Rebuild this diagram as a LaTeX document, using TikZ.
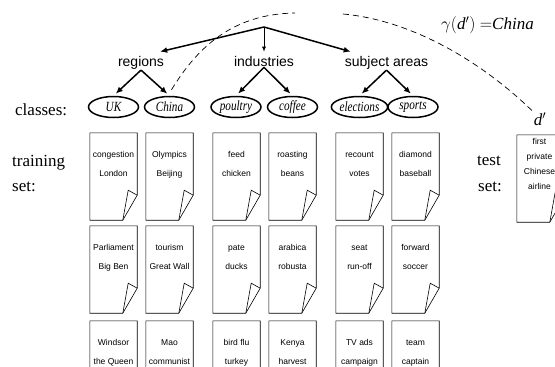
\documentclass[tikz,border=0pt]{standalone}
\usepackage{fontspec}
\usepackage{graphicx}
\setmainfont{Liberation Serif}
\newfontfamily\hv{Liberation Sans}
\usetikzlibrary{arrows.meta,calc,shapes.geometric}
\newcommand\sx[1]{\scalebox{0.8}[1]{#1}}
\newcommand\docpage[5]{%
  \node[docbox] (#1) at ({#2+23.5},{#3+43.5}) {};
  \draw[docline] (#1.north east) -- ($(#1.south east)+(0,-25)$) -- ($(#1.south west)+(33,0)$)
     -- (#1.south west) -- (#1.north west) -- cycle;
  \draw[docline] ($(#1.south west)+(33,0)$) -- ($(#1.south east)+(-9,-30)$) -- ($(#1.south east)+(0,-25)$);
  \node[doctext] (#1a) at ($(#1.north)+(0,25)$) {#4};
  \node[doctext] (#1b) at ($(#1.north)+(0,44)$) {#5};
}
\begin{document}
\begin{tikzpicture}[x=1pt,y=-1pt,
  docbox/.style={rectangle,minimum width=47pt,minimum height=87pt,inner sep=0pt},
  docline/.style={line width=0.6pt,line join=miter},
  doctext/.style={anchor=base,inner sep=0pt,font=\hv\fontsize{8.5}{9}\selectfont},
  cat/.style={anchor=base,inner sep=1pt,font=\hv\fontsize{14}{16}\selectfont},
  lab/.style={anchor=base west,inner sep=0pt,font=\fontsize{17}{19}\selectfont},
  ellip/.style={ellipse,draw,line width=1.5pt,minimum width=50pt,minimum height=21pt,
     inner xsep=0pt,inner ysep=-3pt,font=\fontsize{14}{15}\selectfont\itshape},
  thickarrow/.style={line width=1.5pt,-{Latex[length=7pt,width=6pt]}},
  thinarrow/.style={line width=0.7pt,-{Latex[length=5pt,width=4pt]}},
  dashline/.style={line width=0.7pt,dash pattern=on 6pt off 4pt}]
\useasboundingbox (0,0) rectangle (555,367);
\fill[white] (0,0) rectangle (555,367);
\clip (0,0) rectangle (555,367);

% categories
\coordinate (root) at (264,27);
\node[cat] (regions) at (141,66) {regions};
\node[cat] (ind) at (264,66) {industries};
\node[cat] (subj) at (386.5,66) {subject areas};

\draw[thickarrow] (root) -- ([xshift=-5pt,yshift=3pt]regions.north east);
\draw[thinarrow] (root) -- ([yshift=3pt]ind.north);
\draw[thickarrow] (root) -- ([xshift=7pt,yshift=3pt]subj.north west);

% classes
\node[ellip] (uk) at (113.5,107) {\sx{UK}};
\node[ellip] (china) at (169.5,107) {\sx{China}};
\node[ellip] (poultry) at (236,107) {\sx{poultry}};
\node[ellip] (coffee) at (292.5,107) {\sx{coffee}};
\node[ellip,minimum width=56pt] (elections) at (359.5,107) {\sx{elections}};
\node[ellip] (sports) at (413,107) {\sx{sports}};

\foreach \p/\c in {regions/uk,regions/china,ind/poultry,ind/coffee,subj/elections,subj/sports}
  \draw[thickarrow,shorten >=3pt] (\p.south) -- (\c.north);

% left labels
\node[lab] (classes) at (15,115) {classes:};
\node[lab] (training) at (12,166) {training};
\node[lab] (set) at (12,191) {set:};
\node[lab] (test) at (477,165) {test};
\node[lab] (set2) at (478,191) {set:};

% training documents
\docpage{d11}{90}{133}{congestion}{London}
\docpage{d12}{90}{226}{Parliament}{Big Ben}
\docpage{d13}{90}{321}{Windsor}{the Queen}
\docpage{d21}{146}{133}{Olympics}{Beijing}
\docpage{d22}{146}{226}{tourism}{Great Wall}
\docpage{d23}{146}{321}{Mao}{communist}
\docpage{d31}{213}{133}{feed}{chicken}
\docpage{d32}{213}{226}{pate}{ducks}
\docpage{d33}{213}{321}{bird flu}{turkey}
\docpage{d41}{269}{133}{roasting}{beans}
\docpage{d42}{269}{226}{arabica}{robusta}
\docpage{d43}{269}{321}{Kenya}{harvest}
\docpage{d51}{336}{133}{recount}{votes}
\docpage{d52}{336}{226}{seat}{run-off}
\docpage{d53}{336}{321}{TV ads}{campaign}
\docpage{d61}{392}{133}{diamond}{baseball}
\docpage{d62}{392}{226}{forward}{soccer}
\docpage{d63}{392}{321}{team}{captain}

% test document
\node[docbox] (tdoc) at ({517+23.5},{135+43.5}) {};
\draw[docline] (tdoc.north east) -- ($(tdoc.south east)+(0,-25)$) -- ($(tdoc.south west)+(33,0)$)
   -- (tdoc.south west) -- (tdoc.north west) -- cycle;
\draw[docline] ($(tdoc.south west)+(33,0)$) -- ($(tdoc.south east)+(-9,-30)$) -- ($(tdoc.south east)+(0,-25)$);
\node[doctext] (t1) at ($(tdoc.north)+(-1,10)$) {first};
\node[doctext] (t2) at ($(tdoc.north)+(-1,25)$) {private};
\node[doctext] (t3) at ($(tdoc.north)+(-1,40)$) {Chinese};
\node[doctext] (t4) at ($(tdoc.north)+(-1,55)$) {airline};

\node[font=\fontsize{17}{19}\selectfont,inner sep=1pt] (dp) at (540,119) {\textit{d}$'$};
\node[font=\fontsize{17}{19}\selectfont,inner sep=0pt] (gamma) at (487.5,25) {$\gamma($\textit{d}$')$ $=$\textit{China}};

% dashed assignment curve
\coordinate (gapL) at (295,13);
\coordinate (gapR) at (343,14);
\draw[dashline] ([xshift=2pt,yshift=6pt]china.north) .. controls (197,48) and (232,14) .. (gapL);
\draw[dashline] (gapR) .. controls (410,20) and (480,60) .. (dp.north west);
\end{tikzpicture}
\end{document}
